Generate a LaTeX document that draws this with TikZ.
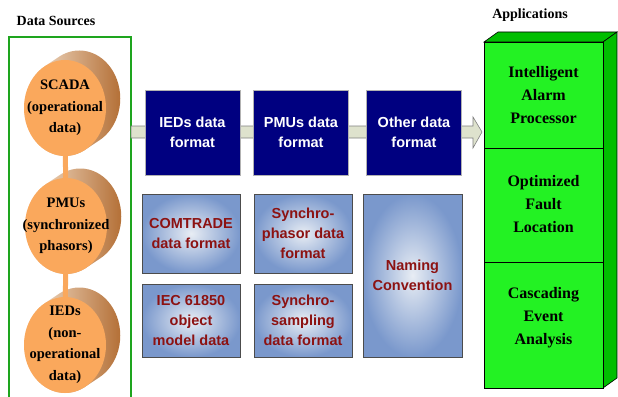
\documentclass[tikz,border=0pt]{standalone}
\usepackage{fontspec}
\setmainfont{Liberation Serif}[BoldFont={Liberation Serif Bold}]
\newfontfamily\arialfont{Liberation Sans}[BoldFont={Liberation Sans Bold}]
\usetikzlibrary{backgrounds,calc}

\definecolor{srcgreen}{RGB}{30,165,30}
\definecolor{ballorange}{RGB}{250,168,92}
\definecolor{balldark}{RGB}{180,112,55}
\definecolor{balllight}{RGB}{248,232,214}
\definecolor{navybox}{RGB}{0,0,128}
\definecolor{paleblue}{RGB}{232,237,244}
\definecolor{steelblue}{RGB}{122,152,204}
\definecolor{fmtred}{RGB}{140,18,18}
\definecolor{bandfill}{RGB}{222,226,205}
\definecolor{appgreen}{RGB}{35,242,35}
\definecolor{appside}{RGB}{0,190,0}

\tikzset{
  title/.style={font=\bfseries\fontsize{14}{16}\selectfont},
  ball/.style={inner sep=0pt, align=center,
    font=\bfseries\fontsize{14.5}{21.5}\selectfont},
  ballshade/.style={left color=balllight, right color=balldark},
  ballface/.style={fill=ballorange},
  link/.style={ballorange, line width=5pt},
  fmtbox/.style={rectangle, fill=navybox, draw=gray!60, minimum width=95,
    minimum height=85, text=white, align=center,
    font=\arialfont\bfseries\fontsize{14.5}{20}\selectfont},
  specbox/.style={rectangle, draw=black!70, inner color=paleblue,
    outer color=steelblue, minimum width=98, text=fmtred, align=center,
    font=\arialfont\bfseries\fontsize{14.5}{20}\selectfont},
  apptext/.style={align=center, font=\bfseries\fontsize{16}{23}\selectfont},
}

\begin{document}
\begin{tikzpicture}[x=1pt, y=-1pt]
\useasboundingbox (0,0) rectangle (618,396);

% titles
\node[title] (srctitle) at (56,21) {Data Sources};
\node[title] (apptitle) at (530,15) {Applications};

% frame around the data sources
\draw[draw=srcgreen, line width=1.2pt] (9,400) -- (9,37) coordinate (srcnw)
  -- (131,37) coordinate (srcne) -- (131,400);

% flow band with its arrow head
\coordinate (bandstart) at (131,132);
\coordinate (bandtip) at (482,132);
\draw[gray, fill=bandfill, line width=0.6pt]
  ($(bandstart)+(0,-6)$) -- ($(bandtip)+(-9,-6)$) -- ($(bandtip)+(-9,-15)$)
  -- (bandtip) -- ($(bandtip)+(-9,16)$) -- ($(bandtip)+(-9,6)$)
  -- ($(bandstart)+(0,6)$) -- cycle;

% data sources: labels first, the discs are painted underneath
\node[ball] (scada) at (65,108) {SCADA\\(operational\\data)};
\node[ball] (pmu)   at (66,226) {PMUs\\(synchronized\\phasors)};
\node[ball] (ied)   at (65,345) {IEDs\\(non-\\operational\\data)};

\begin{scope}[on background layer]
  % extruded back of each disc
  \foreach \b in {scada,pmu,ied}{
    \shade[ballshade] \foreach \t in {0,0.05,...,1.0}{
      ([shift={(15*\t,-10*\t)}]\b.center) ellipse [x radius=41, y radius=48]};
  }
  \draw[link] (scada.center) -- (pmu.center);
  \draw[link] (pmu.center) -- (ied.center);
  % front faces
  \foreach \b in {scada,pmu,ied}{
    \fill[ballface] (\b.center) ellipse [x radius=41, y radius=48];
  }
\end{scope}

% data formats
\node[fmtbox] (iedfmt)   at (192.5,132.5) {IEDs data\\format};
\node[fmtbox] (pmufmt)   at (301,132.5)   {PMUs data\\format};
\node[fmtbox] (otherfmt) at (414,132.5)   {Other data\\format};

\node[specbox, minimum height=79] (comtrade) at (191,233.5) {COMTRADE\\data format};
\node[specbox, minimum height=79] (phasor)   at (303,233.5) {Synchro-\\phasor data\\format};
\node[specbox, minimum height=73] (iec)      at (191,320.5) {IEC 61850\\object\\model data};
\node[specbox, minimum height=73] (sampling) at (303,320.5) {Synchro-\\sampling\\data format};
\node[specbox, minimum width=99, minimum height=163] (naming) at (412.5,275.5) {Naming\\Convention};

% applications block
\coordinate (fnw) at (484,42);
\coordinate (fne) at (603,42);
\coordinate (fse) at (603,388);
\coordinate (fsw) at (484,388);
\coordinate (depth) at (14,-10);
\filldraw[fill=appside, draw=black, line width=0.6pt]
  (fnw) -- (fne) -- ($(fne)+(depth)$) -- ($(fnw)+(depth)$) -- cycle;
\filldraw[fill=appside, draw=black, line width=0.6pt]
  (fne) -- ($(fne)+(depth)$) -- ($(fse)+(depth)$) -- (fse) -- cycle;
\filldraw[fill=appgreen, draw=black, line width=0.6pt] (fnw) rectangle (fse);
\draw[line width=1pt] (484,148) -- (603,148);
\draw[line width=1pt] (484,262) -- (603,262);

\node[apptext] (alarm)   at (543.5,95)  {Intelligent\\Alarm\\Processor};
\node[apptext] (fault)   at (543.5,204) {Optimized\\Fault\\Location};
\node[apptext] (cascade) at (543.5,318) {Cascading\\Event\\Analysis};
\end{tikzpicture}
\end{document}
